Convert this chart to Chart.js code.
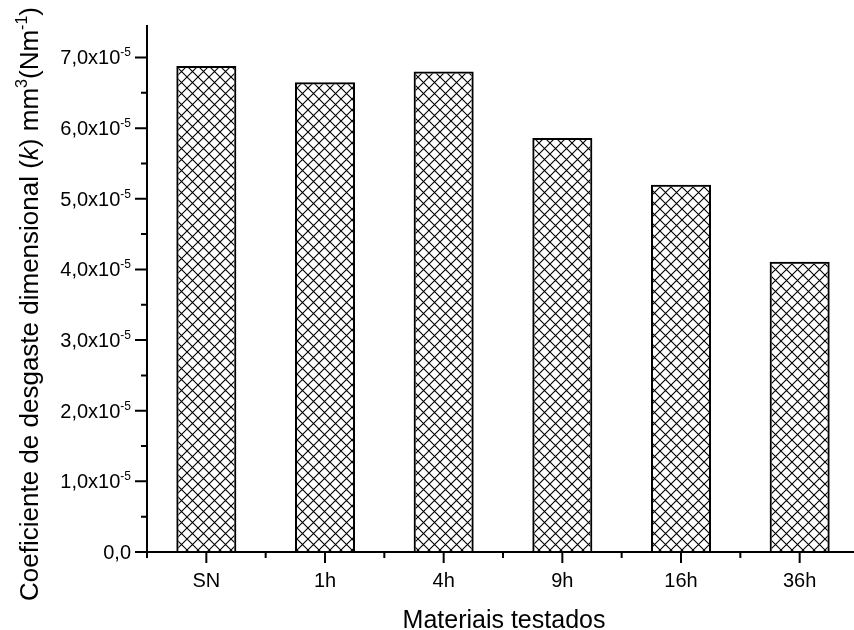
<!DOCTYPE html>
<html>
<head>
<meta charset="utf-8">
<script src="https://cdn.jsdelivr.net/npm/chart.js@4/dist/chart.umd.min.js"></script>
<style>
html, body { margin: 0; padding: 0; background: #fff; overflow: hidden; }
#wrap { position: absolute; left: 0; top: 0; width: 860px; height: 630px; }
</style>
</head>
<body>
<div id="wrap"><canvas id="myChart"></canvas></div>
<script>
// values in units of 1e-5 mm3/(N m)
const materiais = ['SN', '1h', '4h', '9h', '16h', '36h'];
const kValues = [6.88, 6.65, 6.80, 5.86, 5.20, 4.11];
const yTicks = [0, 1, 2, 3, 4, 5, 6, 7];

const FONT = '"Liberation Sans", Arial, sans-serif';

// crosshatch fill
const tile = document.createElement('canvas');
tile.width = 11; tile.height = 11;
const tctx = tile.getContext('2d');
tctx.strokeStyle = '#000';
tctx.lineWidth = 1.1;
for (const k of [-11, 0, 11]) {
  tctx.beginPath();
  tctx.moveTo(k, 0); tctx.lineTo(k + 11, 11);
  tctx.moveTo(k + 11, 0); tctx.lineTo(k, 11);
  tctx.stroke();
}
const ctx = document.getElementById('myChart');
const hatch = ctx.getContext('2d').createPattern(tile, 'repeat');

function tickLabel(v) {
  if (v === 0) return { base: '0,0', sup: '' };
  return { base: v.toFixed(1).replace('.', ',') + 'x10', sup: '-5' };
}

const axesPlugin = {
  id: 'originAxes',
  afterDraw(chart) {
    const c = chart.ctx;
    const a = chart.chartArea;
    const x = chart.scales.x, y = chart.scales.y;
    c.save();
    c.strokeStyle = '#000';
    c.fillStyle = '#000';
    c.lineWidth = 2;

    // axis lines
    c.beginPath();
    c.moveTo(a.left, a.top); c.lineTo(a.left, a.bottom);
    c.moveTo(a.left - 12, a.bottom); c.lineTo(a.right, a.bottom);
    c.stroke();

    // y ticks
    c.beginPath();
    yTicks.forEach(v => {
      const py = y.getPixelForValue(v);
      c.moveTo(a.left - 12, py); c.lineTo(a.left, py);
      if (v + 0.5 < y.max) {
        const pm = y.getPixelForValue(v + 0.5);
        c.moveTo(a.left - 6, pm); c.lineTo(a.left, pm);
      }
    });
    // x ticks
    materiais.forEach((m, i) => {
      const px = x.getPixelForValue(i);
      c.moveTo(px, a.bottom); c.lineTo(px, a.bottom + 11);
    });
    for (let i = 0; i <= materiais.length; i++) {
      const pb = x.getPixelForValue(i - 0.5);
      c.moveTo(pb, a.bottom); c.lineTo(pb, a.bottom + 6);
    }
    c.stroke();

    // y tick labels
    const right = a.left - 16;
    yTicks.forEach(v => {
      const py = y.getPixelForValue(v);
      const t = tickLabel(v);
      c.font = '12px ' + FONT;
      const sw = t.sup ? c.measureText(t.sup).width : 0;
      c.textAlign = 'right';
      c.textBaseline = 'alphabetic';
      if (t.sup) c.fillText(t.sup, right, py - 1);
      c.font = '20px ' + FONT;
      c.fillText(t.base, right - sw, py + 7);
    });

    // x tick labels
    c.font = '20px ' + FONT;
    c.textAlign = 'center';
    c.textBaseline = 'alphabetic';
    materiais.forEach((m, i) => {
      c.fillText(m, x.getPixelForValue(i), a.bottom + 35);
    });

    // x title
    c.font = '25px ' + FONT;
    c.fillText('Materiais testados', 504, 628);

    // y title (rotated, mixed runs)
    const runs = [
      { t: 'Coeficiente de desgaste dimensional (', f: '26px ' + FONT, dy: 0 },
      { t: 'k', f: 'italic 26px ' + FONT, dy: 0 },
      { t: ') mm', f: '26px ' + FONT, dy: 0 },
      { t: '3', f: '16px ' + FONT, dy: -11 },
      { t: '(Nm', f: '26px ' + FONT, dy: 0 },
      { t: '-1', f: '16px ' + FONT, dy: -11 },
      { t: ')', f: '26px ' + FONT, dy: 0 }
    ];
    let total = 0;
    runs.forEach(r => { c.font = r.f; r.w = c.measureText(r.t).width; total += r.w; });
    c.translate(38, 304);
    c.rotate(-Math.PI / 2);
    c.textAlign = 'left';
    let cx = -total / 2;
    runs.forEach(r => {
      c.font = r.f;
      c.fillText(r.t, cx, r.dy);
      cx += r.w;
    });
    c.restore();
  }
};

new Chart(ctx, {
  type: 'bar',
  data: {
    labels: materiais,
    datasets: [{
      data: kValues,
      backgroundColor: hatch,
      borderColor: '#000',
      borderWidth: 2,
      categoryPercentage: 1,
      barPercentage: 0.506
    }]
  },
  options: {
    responsive: true,
    maintainAspectRatio: false,
    animation: false,
    layout: { padding: { left: 147, right: 1, top: 25, bottom: 78 } },
    plugins: { legend: { display: false }, tooltip: { enabled: false } },
    scales: {
      x: { display: false, offset: true },
      y: { display: false, min: 0, max: 7.46 }
    }
  },
  plugins: [axesPlugin]
});
</script>
</body>
</html>
